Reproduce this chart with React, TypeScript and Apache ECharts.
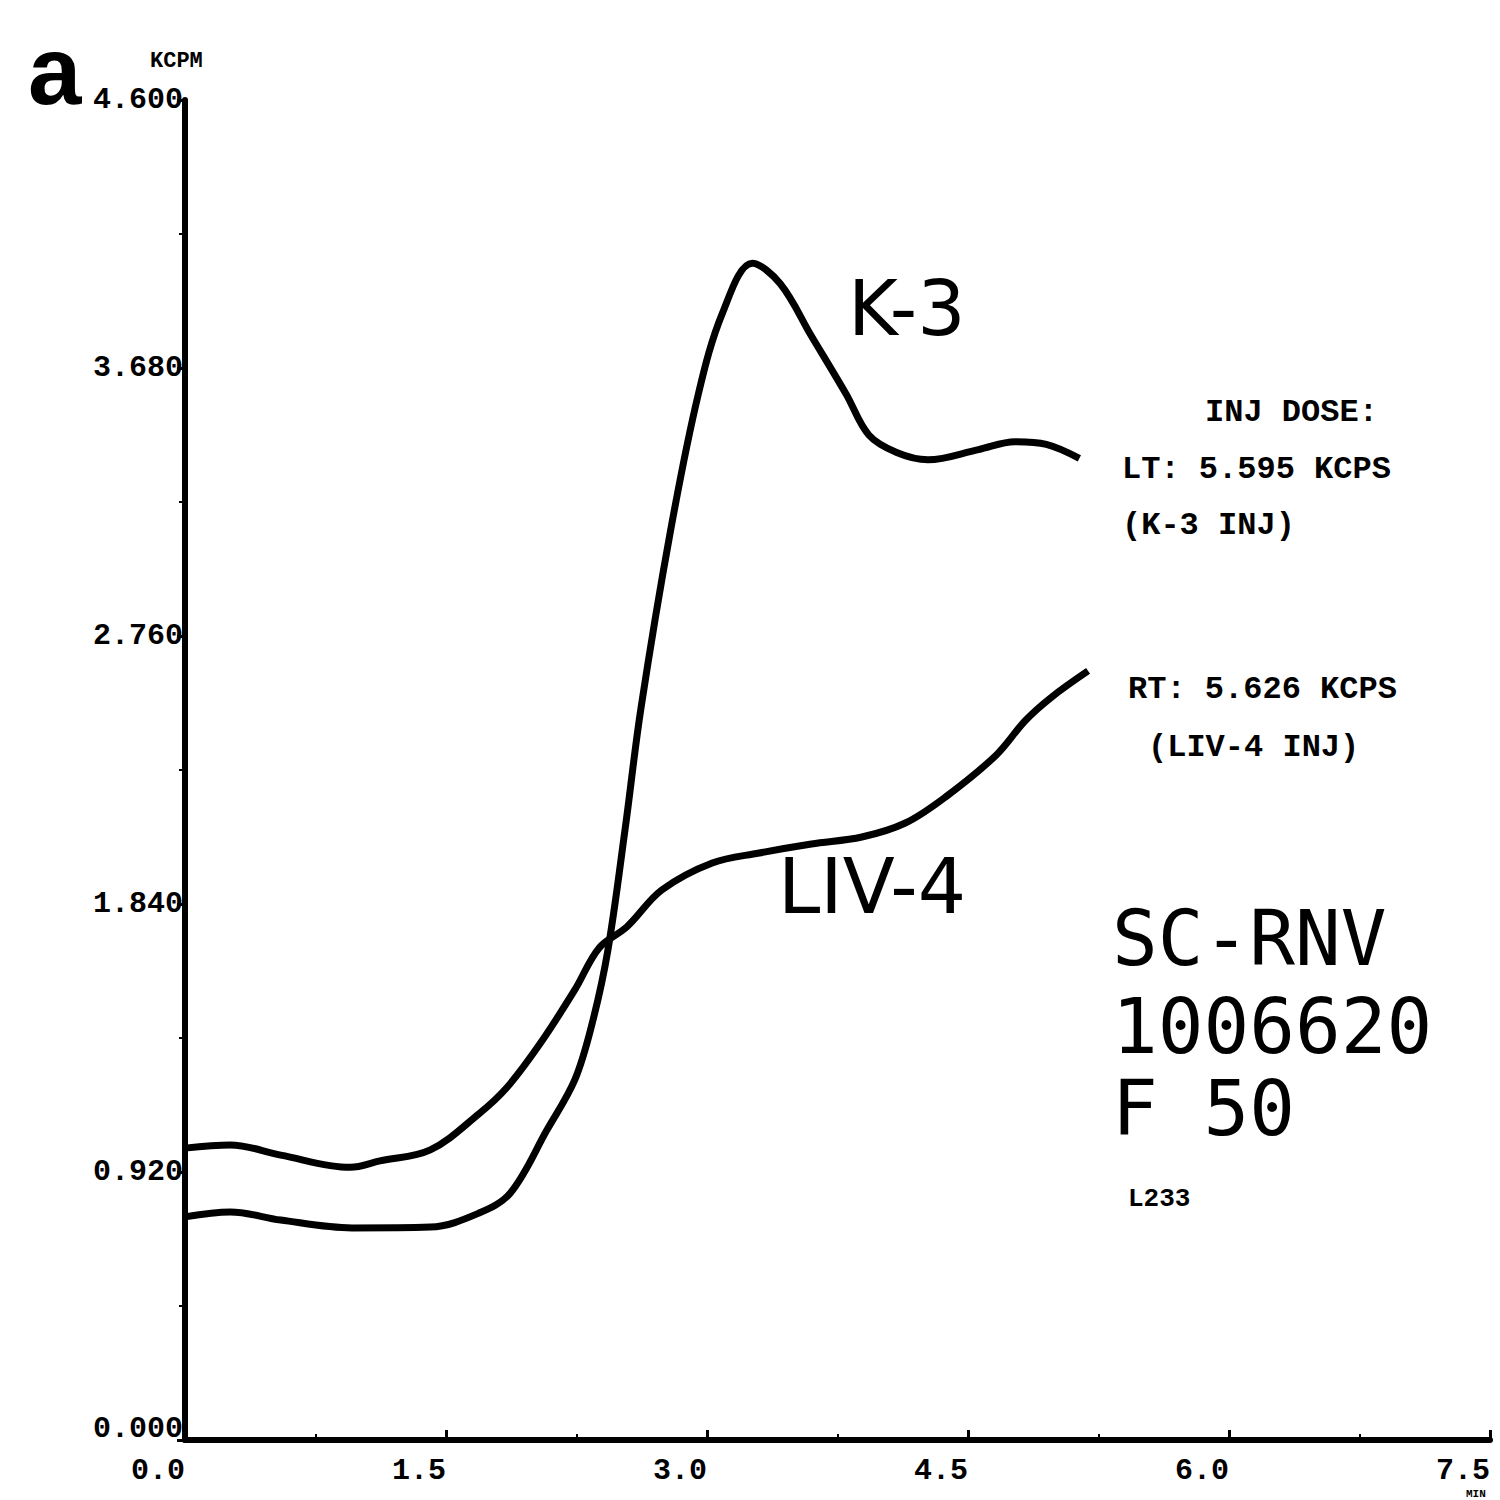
import React, { useEffect, useRef } from "react";
import * as echarts from "echarts";

// Time (MIN) and count rate (KCPM)
const k3X = [0, 0.26, 0.55, 0.96, 1.41, 1.69, 1.87, 2.08, 2.24, 2.34, 2.43, 2.53, 2.62, 2.79, 2.95, 3.09, 3.26, 3.42, 3.6, 3.8, 3.93, 4.09, 4.27, 4.56, 4.77, 4.95, 5.14];
const k3Y = [0.766, 0.783, 0.755, 0.728, 0.731, 0.779, 0.848, 1.064, 1.236, 1.43, 1.68, 2.1, 2.51, 3.12, 3.59, 3.87, 4.04, 3.97, 3.79, 3.59, 3.45, 3.39, 3.365, 3.4, 3.427, 3.418, 3.37];

const livX = [0, 0.26, 0.55, 0.95, 1.12, 1.41, 1.69, 1.85, 2.04, 2.24, 2.38, 2.54, 2.74, 3.03, 3.3, 3.6, 3.89, 4.14, 4.37, 4.66, 4.83, 4.98, 5.19];
const livY = [1.002, 1.013, 0.978, 0.936, 0.958, 0.996, 1.12, 1.21, 1.36, 1.545, 1.689, 1.762, 1.888, 1.981, 2.015, 2.046, 2.07, 2.118, 2.207, 2.35, 2.47, 2.55, 2.64];

const xMin = 0;
const xMax = 7.5;
const xStep = 1.5;
const yMin = 0;
const yMax = 4.6;
const yStep = 0.92;

const infoLines = ["INJ DOSE:", "LT: 5.595 KCPS", "(K-3 INJ)", "RT: 5.626 KCPS", "(LIV-4 INJ)"];
const studyLines = ["SC-RNV", "1006620", "F 50"];

export default function App() {
  const ref = useRef<HTMLDivElement>(null);
  useEffect(() => {
    if (!ref.current) return;
    const chart = echarts.init(ref.current, null, { renderer: "svg" });
    const mono = "'Liberation Mono', 'DejaVu Sans Mono', monospace";
    const k3Data = k3X.map((x, i) => [x, k3Y[i]]);
    const livData = livX.map((x, i) => [x, livY[i]]);
    chart.setOption({
      animation: false,
      backgroundColor: "#ffffff",
      grid: { left: 185, right: 10, top: 100, bottom: 60, containLabel: false },
      xAxis: {
        type: "value",
        min: xMin,
        max: xMax,
        interval: xStep,
        axisLine: { show: true, lineStyle: { color: "#000", width: 6 } },
        axisTick: { show: true, inside: true, length: 10, lineStyle: { color: "#000", width: 3 } },
        minorTick: { show: true, splitNumber: 2, length: 6, lineStyle: { color: "#000", width: 2 } },
        splitLine: { show: false },
        axisLabel: {
          formatter: (v: number) => v.toFixed(1),
          align: "right",
          margin: 16,
          color: "#000",
          fontFamily: mono,
          fontWeight: "bold",
          fontSize: 30,
        },
      },
      yAxis: {
        type: "value",
        min: yMin,
        max: yMax,
        interval: yStep,
        axisLine: { show: true, lineStyle: { color: "#000", width: 6 } },
        axisTick: { show: true, length: 8, lineStyle: { color: "#000", width: 3 } },
        minorTick: { show: true, splitNumber: 2, length: 6, lineStyle: { color: "#000", width: 2 } },
        splitLine: { show: false },
        axisLabel: {
          formatter: (v: number) => (v === 0 ? "{z|" + v.toFixed(3) + "}" : v.toFixed(3)),
          margin: 2,
          color: "#000",
          fontFamily: mono,
          fontWeight: "bold",
          fontSize: 30,
          rich: {
            z: {
              color: "#000",
              fontFamily: mono,
              fontWeight: "bold",
              fontSize: 30,
              padding: [0, 0, 22, 0],
            },
          },
        },
      },
      series: [
        {
          name: "K-3",
          type: "line",
          data: k3Data,
          smooth: 0.35,
          showSymbol: false,
          lineStyle: { color: "#000", width: 7 },
        },
        {
          name: "LIV-4",
          type: "line",
          data: livData,
          smooth: 0.35,
          showSymbol: false,
          lineStyle: { color: "#000", width: 7 },
        },
      ],
      graphic: [
        { type: "text", left: 28, top: 22, style: { text: "a", font: "bold 96px 'Liberation Sans', Arial, sans-serif", fill: "#000" } },
        { type: "text", left: 150, top: 50, style: { text: "KCPM", font: `bold 22px ${mono}`, fill: "#000" } },
        { type: "text", left: 1466, top: 1488, style: { text: "MIN", font: `bold 11px ${mono}`, fill: "#000" } },
        { type: "text", left: 848, top: 270, style: { text: "K-3", font: "76px 'DejaVu Sans', sans-serif", fill: "#000" } },
        { type: "text", left: 778, top: 848, style: { text: "LIV-4", font: "76px 'DejaVu Sans', sans-serif", fill: "#000" } },
        { type: "text", left: 1205, top: 396, style: { text: infoLines[0], font: `bold 32px ${mono}`, fill: "#000" } },
        { type: "text", left: 1122, top: 453, style: { text: infoLines[1], font: `bold 32px ${mono}`, fill: "#000" } },
        { type: "text", left: 1122, top: 509, style: { text: infoLines[2], font: `bold 32px ${mono}`, fill: "#000" } },
        { type: "text", left: 1128, top: 673, style: { text: infoLines[3], font: `bold 32px ${mono}`, fill: "#000" } },
        { type: "text", left: 1148, top: 731, style: { text: infoLines[4], font: `bold 32px ${mono}`, fill: "#000" } },
        { type: "text", left: 1112, top: 900, style: { text: studyLines[0], font: `76px 'DejaVu Sans Mono', monospace`, fill: "#000" } },
        { type: "text", left: 1112, top: 988, style: { text: studyLines[1], font: `76px 'DejaVu Sans Mono', monospace`, fill: "#000" } },
        { type: "text", left: 1112, top: 1070, style: { text: studyLines[2], font: `76px 'DejaVu Sans Mono', monospace`, fill: "#000" } },
        { type: "text", left: 1128, top: 1186, style: { text: "L233", font: `bold 26px ${mono}`, fill: "#000" } },
      ],
    });
    return () => chart.dispose();
  }, []);
  return <div ref={ref} style={{ position: "fixed", left: 0, top: 0, width: 1500, height: 1500, background: "#fff" }} />;
}
